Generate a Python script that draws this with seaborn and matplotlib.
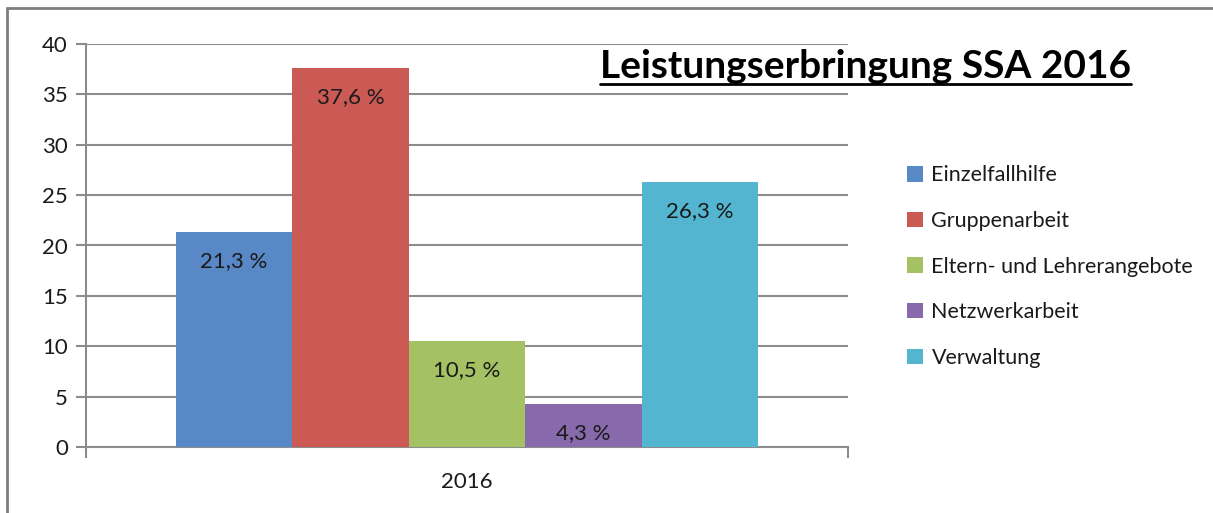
import numpy as np
import pandas as pd
import matplotlib.pyplot as plt
import seaborn as sns
from matplotlib.lines import Line2D
from matplotlib.patches import Patch

# data
jahr = ['2016']
bereiche = ['Einzelfallhilfe', 'Gruppenarbeit', 'Eltern- und Lehrerangebote',
            'Netzwerkarbeit', 'Verwaltung']
anteile = [21.3, 37.6, 10.5, 4.3, 26.3]
farben = ['#5889c6', '#cb5a55', '#a4c263', '#8869ab', '#53b5d0']

df = pd.DataFrame({'Jahr': jahr * len(bereiche), 'Bereich': bereiche, 'Anteil': anteile})

sns.set_style('white')
plt.rcParams['font.family'] = ['Lato', 'DejaVu Sans']
grau = '#8c8c8c'

fig = plt.figure(figsize=(12.13, 5.13), dpi=100)
ax = fig.add_axes([86/1213, 1-447/513, (848-86)/1213, (447-44)/513])

sns.barplot(data=df, x='Jahr', y='Anteil', hue='Bereich', hue_order=bereiche,
            palette=farben, saturation=1, width=0.765, linewidth=0,
            legend=False, ax=ax, zorder=3)

# labels inside the bars
for cont, v in zip(ax.containers, anteile):
    for p in cont:
        ax.annotate(f'{v:.1f} %'.replace('.', ','),
                    xy=(p.get_x() + p.get_width()/2, p.get_height()),
                    xytext=(0, -21), textcoords='offset points',
                    ha='center', va='center', fontsize=16, color='#1a1a1a', zorder=4)

ax.set_ylim(0, 40)
ax.set_xlim(-0.5, 0.5)
ax.set_yticks(np.arange(0, 41, 5))
ax.yaxis.grid(True, color=grau, lw=1.5)
ax.set_axisbelow(True)
ax.set_xlabel('')
ax.set_ylabel('')
ax.set_xticks([0])
ax.set_xticklabels(jahr)
ax.set_xticks([-0.5, 0.5], minor=True)
ax.tick_params(axis='x', which='major', bottom=True, length=0, pad=18, labelsize=16,
               colors='#1a1a1a')
ax.tick_params(axis='x', which='minor', bottom=True, length=8, width=1.5, color=grau,
               direction='out')
ax.tick_params(axis='y', left=True, length=7, width=1.5, color=grau, direction='out',
               labelsize=16, labelcolor='#1a1a1a', pad=6)
for s in ['top', 'right']:
    ax.spines[s].set_visible(False)
for s in ['left', 'bottom']:
    ax.spines[s].set_color(grau)
    ax.spines[s].set_linewidth(1.5)

# title, underlined
titel = fig.text(865/1213, 1-66/513, 'Leistungserbringung SSA 2016', ha='center',
                 va='center', fontsize=28, fontweight='bold', color='black')
fig.canvas.draw()
bb = titel.get_window_extent().transformed(fig.transFigure.inverted())
fig.add_artist(Line2D([bb.x0, bb.x1], [1-84/513, 1-84/513], color='black', lw=2))

# legend
handles = [Patch(facecolor=c, edgecolor='none') for c in farben]
fig.legend(handles, bereiche, loc='upper left', bbox_to_anchor=(888/1213, 1-146/513),
           frameon=False, fontsize=15.5, handlelength=0.72, handleheight=0.72,
           handletextpad=0.4, labelspacing=1.19, labelcolor='#1a1a1a')

# outer frame (only left and top visible)
fig.add_artist(Line2D([7/1213, 7/1213], [0, 1-8/513], color='#7f7f7f', lw=2))
fig.add_artist(Line2D([7/1213, 1], [1-8/513, 1-8/513], color='#7f7f7f', lw=2))

fig.savefig('out.png', dpi=100)
